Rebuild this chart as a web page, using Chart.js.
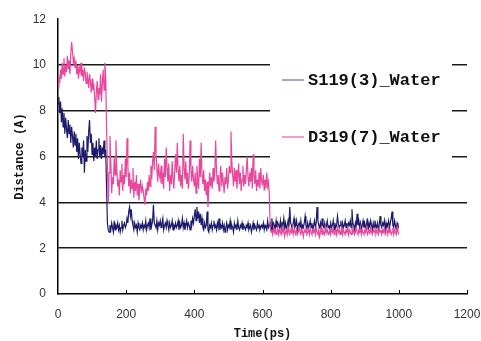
<!DOCTYPE html>
<html>
<head>
<meta charset="utf-8">
<script src="https://cdn.jsdelivr.net/npm/chart.js@4/dist/chart.umd.min.js"></script>
<style>
  html, body { margin: 0; padding: 0; background: #fff; }
  #wrap { width: 481px; height: 341px; }
</style>
</head>
<body>
<div id="wrap"><canvas id="c" width="481" height="341"></canvas></div>
<script>
// ---- data ----
const timePs = [
  0,2.5,5,7.5,10,12.5,15,17.5,20,22.5,25,27.5,30,32.5,35,37.5,40,42.5,45,47.5,
  50,52.5,55,57.5,60,62.5,65,67.5,70,72.5,75,77.5,80,82.5,85,87.5,90,92.5,95,97.5,
  100,102.5,105,107.5,110,112.5,115,117.5,120,122.5,125,127.5,130,132.5,135,137.5,140,142.5,145,147.5,
  150,152.5,155,157.5,160,162.5,165,167.5,170,172.5,175,177.5,180,182.5,185,187.5,190,192.5,195,197.5,
  200,202.5,205,207.5,210,212.5,215,217.5,220,222.5,225,227.5,230,232.5,235,237.5,240,242.5,245,247.5,
  250,252.5,255,257.5,260,262.5,265,267.5,270,272.5,275,277.5,280,282.5,285,287.5,290,292.5,295,297.5,
  300,302.5,305,307.5,310,312.5,315,317.5,320,322.5,325,327.5,330,332.5,335,337.5,340,342.5,345,347.5,
  350,352.5,355,357.5,360,362.5,365,367.5,370,372.5,375,377.5,380,382.5,385,387.5,390,392.5,395,397.5,
  400,402.5,405,407.5,410,412.5,415,417.5,420,422.5,425,427.5,430,432.5,435,437.5,440,442.5,445,447.5,
  450,452.5,455,457.5,460,462.5,465,467.5,470,472.5,475,477.5,480,482.5,485,487.5,490,492.5,495,497.5,
  500,502.5,505,507.5,510,512.5,515,517.5,520,522.5,525,527.5,530,532.5,535,537.5,540,542.5,545,547.5,
  550,552.5,555,557.5,560,562.5,565,567.5,570,572.5,575,577.5,580,582.5,585,587.5,590,592.5,595,597.5,
  600,602.5,605,607.5,610,612.5,615,617.5,620,622.5,625,627.5,630,632.5,635,637.5,640,642.5,645,647.5,
  650,652.5,655,657.5,660,662.5,665,667.5,670,672.5,675,677.5,680,682.5,685,687.5,690,692.5,695,697.5,
  700,702.5,705,707.5,710,712.5,715,717.5,720,722.5,725,727.5,730,732.5,735,737.5,740,742.5,745,747.5,
  750,752.5,755,757.5,760,762.5,765,767.5,770,772.5,775,777.5,780,782.5,785,787.5,790,792.5,795,797.5,
  800,802.5,805,807.5,810,812.5,815,817.5,820,822.5,825,827.5,830,832.5,835,837.5,840,842.5,845,847.5,
  850,852.5,855,857.5,860,862.5,865,867.5,870,872.5,875,877.5,880,882.5,885,887.5,890,892.5,895,897.5,
  900,902.5,905,907.5,910,912.5,915,917.5,920,922.5,925,927.5,930,932.5,935,937.5,940,942.5,945,947.5,
  950,952.5,955,957.5,960,962.5,965,967.5,970,972.5,975,977.5,980,982.5,985,987.5,990,992.5,995,997.5,
  1000
];

const s119Water = [
  8.3,8.6,7.9,8.4,7.5,8.1,7.3,7.9,7.0,7.7,7.2,6.8,7.6,7.0,7.4,6.6,7.3,6.9,6.4,7.1,
  6.5,7.0,6.2,6.8,5.9,6.6,6.1,5.7,6.4,6.0,6.7,5.3,6.3,5.8,6.9,6.2,7.1,7.6,6.6,7.0,
  6.1,6.6,5.8,6.4,6.0,6.7,5.9,6.3,6.8,6.0,6.5,5.9,6.4,6.1,6.7,6.0,6.3,4.6,3.1,2.8,
  2.7,3.0,2.8,3.1,2.9,2.7,3.2,2.8,3.0,2.9,3.1,2.8,3.0,2.7,2.9,3.2,2.8,3.0,3.1,2.9,
  3.0,3.3,3.1,3.6,3.8,3.4,3.7,3.2,3.0,2.8,3.1,2.9,3.0,2.7,3.1,2.9,2.8,3.0,2.9,3.1,
  2.8,3.0,2.9,3.2,2.8,3.0,3.1,2.9,3.3,2.8,3.0,3.2,3.9,3.1,3.0,2.9,3.2,2.8,3.1,3.0,
  3.2,2.9,3.1,3.3,2.8,3.0,3.1,2.9,3.2,3.0,2.8,3.1,2.9,3.0,3.2,2.8,3.0,2.9,3.1,2.9,
  3.0,3.2,2.8,3.1,2.9,3.0,3.3,2.9,3.1,2.8,3.0,3.2,2.9,3.1,3.0,2.8,3.2,3.0,3.3,3.1,
  3.4,3.7,3.2,3.8,3.3,3.6,3.1,3.5,3.0,3.3,2.9,2.8,3.1,2.9,3.0,3.6,2.8,2.7,3.0,2.9,
  3.1,2.8,3.0,3.2,2.9,3.0,2.8,3.1,2.9,3.3,2.8,3.0,2.9,3.1,2.8,3.0,2.7,2.9,3.1,2.8,
  3.0,2.9,3.2,2.8,3.0,2.9,2.7,3.1,2.9,3.0,2.8,3.2,2.9,2.8,3.0,2.9,3.1,2.8,3.0,2.9,
  2.8,3.0,2.9,3.1,2.8,2.9,3.0,2.7,2.9,3.1,2.8,3.0,2.9,2.8,3.1,2.9,3.0,2.8,2.9,3.0,
  2.9,3.1,2.8,3.0,2.9,2.8,3.2,2.9,3.0,3.1,2.8,3.3,2.9,3.1,3.0,2.8,3.2,2.9,3.1,3.0,
  2.9,3.2,2.8,3.1,3.0,3.3,2.9,3.1,2.8,3.0,3.2,2.9,3.8,3.1,3.0,2.8,3.1,3.3,2.9,3.0,
  3.2,2.8,3.0,3.1,2.9,3.2,2.8,3.0,2.9,3.1,3.4,3.0,2.8,3.1,2.9,3.0,3.2,2.9,3.1,2.8,
  3.0,3.2,2.9,3.1,3.8,3.2,3.0,2.9,3.1,2.8,3.3,3.0,2.9,3.1,2.8,3.0,3.2,2.9,3.0,2.8,
  3.1,2.9,3.0,3.2,2.8,3.1,2.9,3.0,3.4,3.1,2.9,3.0,3.2,2.8,3.1,2.9,3.0,3.2,2.9,3.1,
  2.9,3.1,3.0,3.2,2.9,3.7,3.1,3.0,2.8,3.1,2.9,3.5,3.0,3.2,2.9,3.1,2.8,3.0,3.2,2.9,
  3.1,2.9,3.0,3.3,2.8,3.1,2.9,3.2,3.0,2.8,3.1,2.9,3.2,3.0,2.9,3.1,2.8,3.0,3.4,3.0,
  2.9,3.1,3.0,3.2,2.8,3.1,2.9,3.0,3.2,2.9,3.1,3.3,3.6,3.0,2.9,3.2,3.0,2.8,3.1,3.0,
  2.9
];

const d319Water = [
  9.0,9.5,9.2,9.8,9.4,10.1,9.6,10.3,9.5,10.0,9.7,10.4,9.8,10.2,9.6,10.5,11.0,10.6,10.1,10.3,
  9.9,10.2,9.6,10.0,9.4,9.9,9.7,10.1,9.5,9.8,9.3,9.9,9.6,9.2,9.7,9.4,9.0,9.6,9.3,8.8,
  9.4,8.9,9.2,8.6,7.9,8.8,9.3,8.5,9.0,8.7,9.6,8.4,9.2,9.8,8.9,10.1,9.5,7.2,5.6,4.0,
  5.3,6.9,5.8,4.4,5.1,4.8,6.0,5.2,6.7,5.5,4.7,5.0,4.3,5.4,4.9,5.7,4.5,5.2,4.8,5.9,
  5.1,6.8,5.6,4.7,5.3,4.4,5.0,4.6,5.5,4.2,4.9,4.5,5.2,4.3,4.8,4.1,4.6,5.0,4.4,4.7,
  4.5,4.2,3.9,4.6,4.3,4.9,4.5,5.2,4.7,5.6,5.0,5.8,6.2,5.4,7.3,6.1,5.5,4.9,5.7,5.2,
  5.0,5.6,4.8,5.3,4.6,5.9,5.1,6.4,5.5,4.9,5.7,4.5,5.2,4.8,5.8,5.0,4.6,5.4,6.1,5.3,
  6.6,5.4,4.9,5.6,4.7,5.2,4.6,7.0,5.5,5.0,5.8,4.8,5.3,4.6,5.1,6.7,5.4,4.9,5.6,5.0,
  4.7,5.3,4.4,5.6,5.0,4.6,5.9,5.1,6.6,5.2,4.8,5.4,4.5,5.0,4.3,4.9,3.8,4.6,5.3,4.7,
  5.1,4.6,5.5,4.9,5.3,6.7,5.4,4.8,5.2,4.5,5.0,5.6,4.7,5.3,4.9,4.4,5.1,4.8,5.5,4.6,
  5.0,5.6,5.3,7.1,5.8,5.2,4.7,5.5,4.9,5.4,4.6,5.1,5.7,4.8,5.3,4.5,5.0,5.6,4.7,5.2,
  4.8,5.4,6.0,5.1,4.7,5.3,4.9,5.5,4.6,6.1,5.2,4.8,5.4,4.5,5.0,4.7,5.3,4.6,5.5,4.9,
  4.8,5.2,4.5,5.0,4.6,5.3,4.7,4.9,4.4,2.9,2.7,2.8,2.6,2.9,2.7,2.8,2.6,2.7,2.9,2.6,
  2.8,2.7,2.6,2.9,2.7,2.8,2.5,2.7,2.8,2.6,2.9,2.7,2.6,2.8,2.7,2.9,2.6,2.8,2.7,2.6,
  2.8,2.6,2.7,2.9,2.7,2.6,2.8,2.7,2.5,2.8,2.7,2.9,2.6,2.7,2.8,2.6,2.9,2.7,2.6,2.8,
  2.7,2.8,2.6,2.9,2.7,2.6,2.8,2.5,2.7,2.9,2.6,2.8,2.7,2.6,2.9,2.7,2.8,2.6,2.7,2.8,
  2.6,2.8,2.7,2.9,2.6,2.7,2.8,2.6,2.9,2.7,2.8,2.6,2.7,2.9,2.6,2.8,2.7,2.6,2.8,2.7,
  2.9,2.6,2.8,2.7,2.6,2.9,2.7,2.8,2.6,2.7,2.9,2.7,2.6,2.8,2.7,2.9,2.6,2.8,2.7,2.6,
  2.8,2.7,2.9,2.6,2.7,2.8,2.6,2.9,2.7,2.6,2.8,2.7,2.9,2.6,2.8,2.7,2.6,2.9,2.7,2.8,
  2.6,2.8,2.7,2.9,2.6,2.7,2.8,2.6,2.9,2.7,2.8,2.6,2.7,2.9,2.6,2.8,2.7,2.6,2.9,2.7,
  2.6
];

const seriesNames = ['S119(3)_Water', 'D319(7)_Water'];
const xTickValues = [0, 200, 400, 600, 800, 1000, 1200];
const yTickValues = [0, 2, 4, 6, 8, 10, 12];

// ---- styles ----
const NAVY = '#1b1a6b';
const PINK = '#e8479c';

const toPoints = (xs, ys) => xs.map((x, i) => ({ x: x, y: ys[i] }));

// inner x tick marks (pointing up from the axis)
const innerTicks = {
  id: 'innerTicks',
  afterDraw(chart) {
    const ctx = chart.ctx;
    const xs = chart.scales.x;
    const y0 = chart.chartArea.bottom;
    ctx.save();
    ctx.strokeStyle = '#000';
    ctx.lineWidth = 1;
    xTickValues.forEach(v => {
      if (v === 0) return;
      const px = Math.round(xs.getPixelForValue(v)) + 0.5;
      ctx.beginPath();
      ctx.moveTo(px, y0);
      ctx.lineTo(px, y0 - 4);
      ctx.stroke();
    });
    ctx.restore();
  }
};

// boxed legend inside the plot area
const innerLegend = {
  id: 'innerLegend',
  afterDatasetsDraw(chart) {
    const ctx = chart.ctx;
    const bx = 270, by = 48, bw = 182, bh = 122;
    ctx.save();
    ctx.fillStyle = '#fff';
    ctx.fillRect(bx, by, bw, bh);
    const items = [
      { label: seriesNames[0], sample: '#8585c4', y: 80 },
      { label: seriesNames[1], sample: '#f07ab8', y: 137 }
    ];
    ctx.font = 'bold 17px "Liberation Mono", "DejaVu Sans Mono", monospace';
    ctx.textBaseline = 'middle';
    ctx.textAlign = 'left';
    items.forEach(it => {
      ctx.strokeStyle = it.sample;
      ctx.lineWidth = 1.5;
      ctx.beginPath();
      ctx.moveTo(282, it.y);
      ctx.lineTo(304, it.y);
      ctx.stroke();
      ctx.fillStyle = '#111';
      ctx.fillText(it.label, 308, it.y + 1);
    });
    ctx.restore();
  }
};

new Chart(document.getElementById('c'), {
  type: 'line',
  data: {
    datasets: [
      {
        label: seriesNames[0],
        data: toPoints(timePs, s119Water),
        borderColor: NAVY,
        borderWidth: 1.2,
        pointRadius: 0,
        tension: 0,
        fill: false,
        order: 2
      },
      {
        label: seriesNames[1],
        data: toPoints(timePs, d319Water),
        borderColor: PINK,
        borderWidth: 1.2,
        pointRadius: 0,
        tension: 0,
        fill: false,
        order: 1
      }
    ]
  },
  options: {
    responsive: false,
    devicePixelRatio: 1,
    animation: false,
    layout: { padding: { left: 0, right: 0, top: 18, bottom: 0 } },
    plugins: {
      legend: { display: false },
      tooltip: { enabled: false }
    },
    scales: {
      x: {
        type: 'linear',
        min: 0,
        max: 1200,
        afterBuildTicks(scale) { scale.ticks = xTickValues.map(v => ({ value: v })); },
        afterFit(scale) {
          scale.height = 47;
          scale.paddingLeft = 0;
          scale.paddingRight = 14;
        },
        grid: { drawOnChartArea: false, drawTicks: false },
        border: { display: true, color: '#000', width: 1.5 },
        ticks: {
          padding: 13,
          maxRotation: 0,
          color: '#333',
          callback: v => String(v),
          font: { family: '"Liberation Sans", Arial, sans-serif', size: 12 }
        },
        title: {
          display: true,
          text: 'Time(ps)',
          color: '#111',
          padding: { top: 2, bottom: 0 },
          font: { family: '"Liberation Mono", "DejaVu Sans Mono", monospace', size: 12, weight: 'bold' }
        }
      },
      y: {
        type: 'linear',
        min: 0,
        max: 12,
        afterBuildTicks(scale) { scale.ticks = yTickValues.map(v => ({ value: v })); },
        afterFit(scale) { scale.width = 58; },
        grid: {
          drawTicks: false,
          lineWidth: 1.5,
          color: ctx => (ctx.tick && (ctx.tick.value === 12 || ctx.tick.value === 0)) ? 'rgba(0,0,0,0)' : '#1a1a1a'
        },
        border: { display: true, color: '#000', width: 1.5 },
        ticks: {
          padding: 12,
          color: '#333',
          callback: v => String(v),
          font: { family: '"Liberation Sans", Arial, sans-serif', size: 12 }
        },
        title: {
          display: true,
          text: 'Distance (A)',
          color: '#111',
          padding: { top: 13, bottom: 4 },
          font: { family: '"Liberation Mono", "DejaVu Sans Mono", monospace', size: 12, weight: 'bold' }
        }
      }
    }
  },
  plugins: [innerTicks, innerLegend]
});
</script>
</body>
</html>
